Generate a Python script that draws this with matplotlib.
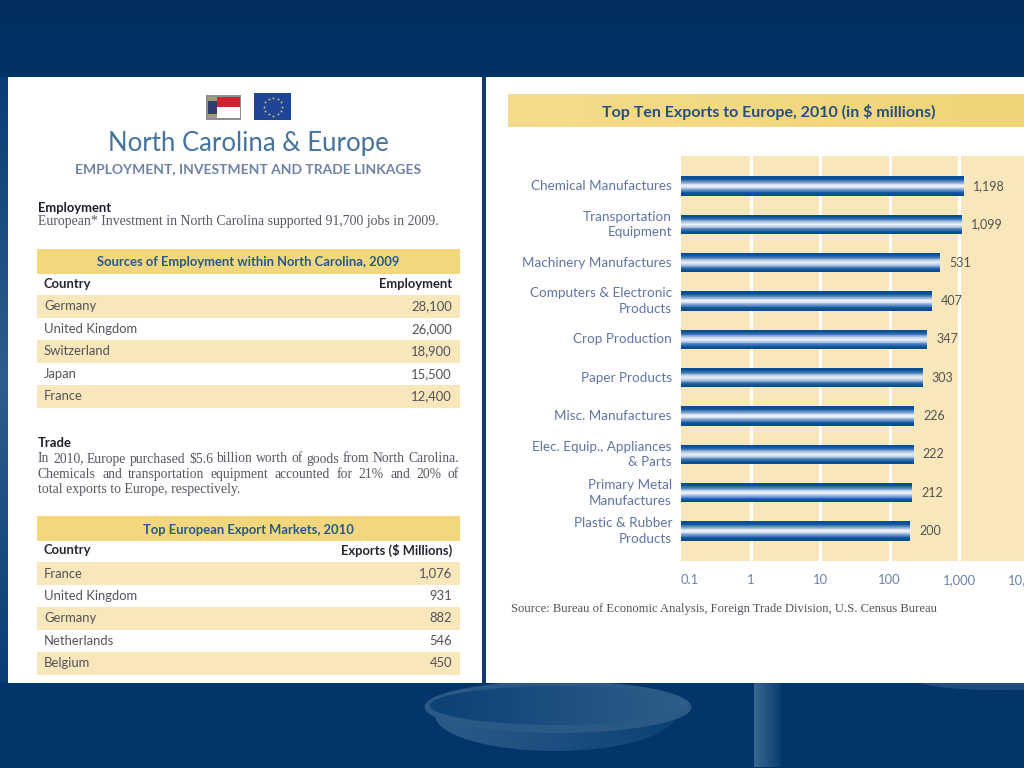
import numpy as np
import matplotlib
matplotlib.use("Agg")
import matplotlib.pyplot as plt
from matplotlib.colors import LinearSegmentedColormap
from matplotlib.patches import Ellipse, Rectangle

# top ten exports, $ millions
export_labels = ["Chemical Manufactures", "Transportation\nEquipment", "Machinery Manufactures",
                 "Computers & Electronic\nProducts", "Crop Production", "Paper Products",
                 "Misc. Manufactures", "Elec. Equip., Appliances\n& Parts", "Primary Metal\nManufactures",
                 "Plastic & Rubber\nProducts"]
export_values = [1198, 1099, 531, 407, 347, 303, 226, 222, 212, 200]
x_ticks = [0.1, 1, 10, 100, 1000, 10000]
x_tick_labels = ["0.1", "1", "10", "100", "1,000", "10,000"]

# left hand tables
jobs_countries = ["Germany", "United Kingdom", "Switzerland", "Japan", "France"]
jobs_values = ["28,100", "26,000", "18,900", "15,500", "12,400"]
market_countries = ["France", "United Kingdom", "Germany", "Netherlands", "Belgium"]
market_values = ["1,076", "931", "882", "546", "450"]

trade_lines = ["In 2010, Europe purchased $5.6 billion worth of goods from North Carolina.",
               "Chemicals and transportation equipment accounted for 21% and 20% of",
               "total exports to Europe, respectively."]

NAVY = "#03356a"
BAND = "#f8e7bb"
GOLD = "#f3d77f"
HEAD = "#275a84"
SANS = "Lato"
SERIF = "Liberation Serif"
DECADE = 69.5


def px(size):
    return size * 0.72


fig = plt.figure(figsize=(10.24, 7.68), dpi=100, facecolor=NAVY)

# page, drawn in pixel coordinates
bg = fig.add_axes([0, 0, 1, 1])
bg.axis("off")


def grad(x0, x1, y0, y1, colors, horizontal=False, clip=None, zorder=1):
    cmap = LinearSegmentedColormap.from_list("g", colors)
    vals = np.linspace(0, 1, 128)
    vals = vals.reshape(1, -1) if horizontal else vals.reshape(-1, 1)
    im = bg.imshow(vals, cmap=cmap, extent=[x0, x1, y1, y0], aspect="auto", zorder=zorder)
    if clip is not None:
        im.set_clip_path(clip)
    return im


def rect(x0, y0, x1, y1, color, zorder=2):
    bg.add_patch(Rectangle((x0, y0), x1 - x0, y1 - y0, fc=color, ec="none", zorder=zorder))


grad(0, 1024, 0, 768, ["#022f60", "#043a72", "#03356a", "#03356a"])
grad(0, 8, 77, 683, ["#0a3d75", "#2f5d8c", "#0a3d75"])

# bowl and pillar behind the panels
body = Ellipse((555, 715), 240, 72, fc="none", ec="none", zorder=2)
bg.add_patch(body)
grad(430, 680, 679, 751, ["#2d5b88", "#0c4176"], horizontal=True, clip=body, zorder=2)
bg.add_patch(Ellipse((558, 707), 267, 52, fc="#2b5985", ec="none", zorder=3))
inner = Ellipse((559, 705.5), 258, 39, fc="none", ec="none", zorder=4)
bg.add_patch(inner)
grad(430, 690, 686, 725, ["#0c4176", "#2f5d88"], horizontal=True, clip=inner, zorder=4)
grad(754, 781, 683, 767, ["#3a678f", "#0a3d72"], horizontal=True, zorder=2)
bg.add_patch(Ellipse((1000, 680), 170, 20, fc="#1f4e7e", ec="none", zorder=2))

# panels
rect(8, 77, 482, 683, "white", zorder=5)
rect(482, 77, 486, 683, "#0d3b6e", zorder=5)
rect(486, 77, 1024, 683, "white", zorder=5)

# flags
rect(206, 95, 241, 120, "#8f8f8f", zorder=6)
rect(208, 97, 217, 118, "#2c3f70", zorder=6)
rect(208, 97, 217, 101, "#a39a78", zorder=6)
rect(208, 114, 217, 118, "#a39a78", zorder=6)
rect(217, 97, 240, 107, "#cf2233", zorder=6)
rect(217, 107, 240, 118, "white", zorder=6)
rect(254, 93, 291, 120, "#1f4597", zorder=6)
star_angles = np.linspace(0, 2 * np.pi, 12, endpoint=False)
bg.scatter(273 + 9 * np.cos(star_angles), 106.5 + 9 * np.sin(star_angles), s=2, c="#c9bd6a",
           linewidths=0, zorder=7)


def txt(x, y, s, size, color, ha="left", weight="normal", family=SANS):
    return bg.text(x, y, s, fontsize=px(size), color=color, ha=ha, va="center", fontweight=weight,
                   family=family, zorder=8)


def justified(x0, x1, y, line, size, color):
    # spread the words of one line between x0 and x1, like the printed column
    words = [txt(x0, y, w.replace("$", r"\$"), size, color, family=SERIF) for w in line.split()]
    r = fig.canvas.get_renderer()
    widths = [w.get_window_extent(r).width for w in words]
    gap = (x1 - x0 - sum(widths)) / (len(words) - 1)
    x = x0
    for w, width in zip(words, widths):
        w.set_x(x)
        x += width + gap


txt(248, 143, "North Carolina & Europe", 25.8, "#44739f", ha="center")
txt(248, 169, "EMPLOYMENT, INVESTMENT AND TRADE LINKAGES", 13.9, "#6f82a6", ha="center", weight="bold")

txt(38, 208, "Employment", 13, "#1d1d2b", weight="bold")
txt(38, 221, "European* Investment in North Carolina supported 91,700 jobs in 2009.", 13.8, "#5a5560",
    family=SERIF)


def table(top, title, col, countries, values):
    rect(36.5, top, 460, top + 24.5, GOLD, zorder=6)
    txt(248, top + 13.5, title, 13, HEAD, ha="center", weight="bold")
    txt(44, top + 34.5, "Country", 13, "#2a2430", weight="bold")
    txt(452, top + 34.5, col, 13, "#2a2430", ha="right", weight="bold")
    for i, (name, val) in enumerate(zip(countries, values)):
        y = top + 57.5 + i * 22.4
        if i % 2 == 0:
            rect(36.5, y - 11.5, 460, y + 11.5, BAND, zorder=6)
        txt(44, y, name, 13, "#53525a")
        txt(452, y, val, 13, "#53525a", ha="right")


table(249, "Sources of Employment within North Carolina, 2009", "Employment", jobs_countries, jobs_values)

txt(38, 443, "Trade", 13, "#1d1d2b", weight="bold")
justified(38, 459, 459, trade_lines[0], 13.6, "#5a5560")
justified(38, 459, 474.5, trade_lines[1], 13.6, "#5a5560")
txt(38, 490, trade_lines[2], 13.8, "#5a5560", family=SERIF)

table(516, "Top European Export Markets, 2010", "Exports ($ Millions)", market_countries, market_values)

# title band and source of the chart
grad(508, 1024, 94, 127, ["#f5dc8c", "#f1d478"], horizontal=True, zorder=6)
txt(768.5, 111.5, "Top Ten Exports to Europe, 2010 (in \\$ millions)", 16, "#23507c", ha="center", weight="bold")
txt(511, 609, "Source: Bureau of Economic Analysis, Foreign Trade Division, U.S. Census Bureau", 12.6,
    "#55505a", family=SERIF)

bg.set_xlim(0, 1024)
bg.set_ylim(768, 0)

# chart, log scale; axes runs past the page edge like the cropped reference
ax = fig.add_axes([681 / 1024, 1 - 561 / 768, (1040 - 681) / 1024, 405 / 768], zorder=3)
ax.set_facecolor(BAND)
ax.set_xscale("log")
ax.set_xlim(0.1, 10 ** (-1 + 359 / DECADE))
ax.set_ylim(9.78, -0.783)
for s in ax.spines.values():
    s.set_visible(False)
for t in x_ticks[1:]:
    ax.axvline(t, color="white", linewidth=px(3), zorder=1)
ax.minorticks_off()

positions = np.arange(len(export_values))
bar_cmap = LinearSegmentedColormap.from_list(
    "bar", ["#064a90", "#0b5398", "#4a80b9", "#b4c9e4", "#f4f6fb", "#b4c9e4", "#4a80b9", "#0b5398", "#064a90"])
n_strips = 24
bar_h = 0.5
for k in range(n_strips):
    off = (k + 0.5) / n_strips
    ax.barh(positions - bar_h / 2 + off * bar_h, np.array(export_values) - 0.1, left=0.1,
            height=bar_h / n_strips * 1.1, color=bar_cmap(off), linewidth=0, zorder=2)

for p, v in zip(positions, export_values):
    ax.annotate(f"{v:,}", (v, p), xytext=(px(9), 0), textcoords="offset points", va="center",
                fontsize=px(12.5), color="#55524f", family=SANS)

ax.set_yticks(positions)
ax.set_yticklabels(export_labels, fontsize=px(13.5), color="#5f74a6", family=SANS, linespacing=1.35)
for lab in ax.get_yticklabels():
    lab.set_va("center")
ax.set_xticks(x_ticks)
ax.set_xticklabels(x_tick_labels, fontsize=px(13), color="#6d82ac", family=SANS)
ax.get_xticklabels()[0].set_ha("left")
ax.tick_params(axis="both", length=0)
ax.tick_params(axis="y", pad=px(9))
ax.tick_params(axis="x", pad=px(13.5))

fig.savefig("out.png", dpi=100)
